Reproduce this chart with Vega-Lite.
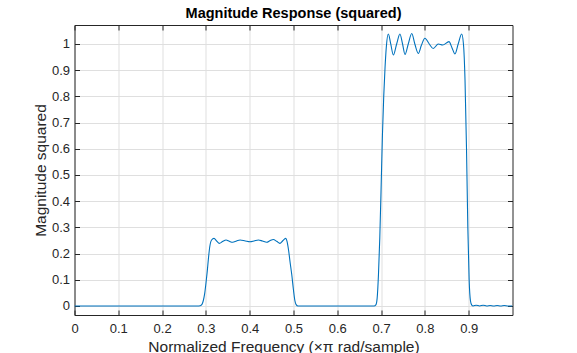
{
  "$schema": "https://vega.github.io/schema/vega-lite/v6.json",
  "autosize": "none",
  "width": 438,
  "height": 290,
  "padding": {"left": 74.5, "top": 25, "right": 64.5, "bottom": 38},
  "background": "white",
  "config": {
    "view": {"stroke": null},
    "font": "Liberation Sans",
    "axis": {
      "domainColor": "#262626",
      "domainWidth": 1,
      "tickColor": "#262626",
      "tickSize": -5,
      "tickWidth": 1,
      "labelColor": "#262626",
      "labelFont": "Liberation Sans",
      "labelFontSize": 13,
      "titleColor": "#262626",
      "titleFont": "Liberation Sans",
      "titleFontSize": 15.5,
      "titleFontWeight": "normal",
      "gridColor": "#dfdfdf",
      "gridWidth": 1
    }
  },
  "title": {
    "text": "Magnitude Response (squared)",
    "font": "Liberation Sans",
    "fontSize": 14.5,
    "fontWeight": "bold",
    "color": "#000000",
    "anchor": "middle",
    "baseline": "alphabetic",
    "offset": 7,
    "dy": 14.5
  },
  "data": {
    "values": [
      {"f": 0.0, "m": 0.0},
      {"f": 0.1, "m": 0.0},
      {"f": 0.2, "m": 0.0},
      {"f": 0.28, "m": 0.0},
      {"f": 0.287, "m": 0.001},
      {"f": 0.291, "m": 0.006},
      {"f": 0.294, "m": 0.02},
      {"f": 0.297, "m": 0.045},
      {"f": 0.3, "m": 0.085},
      {"f": 0.303, "m": 0.131},
      {"f": 0.306, "m": 0.185},
      {"f": 0.309, "m": 0.228},
      {"f": 0.313, "m": 0.252},
      {"f": 0.3185, "m": 0.258},
      {"f": 0.3245, "m": 0.248},
      {"f": 0.3306, "m": 0.239},
      {"f": 0.338, "m": 0.246},
      {"f": 0.346, "m": 0.252},
      {"f": 0.3535, "m": 0.247},
      {"f": 0.361, "m": 0.243},
      {"f": 0.37, "m": 0.248},
      {"f": 0.378, "m": 0.252},
      {"f": 0.39, "m": 0.248},
      {"f": 0.4007, "m": 0.245},
      {"f": 0.41, "m": 0.248},
      {"f": 0.4197, "m": 0.252},
      {"f": 0.429, "m": 0.248},
      {"f": 0.4388, "m": 0.243},
      {"f": 0.446, "m": 0.249},
      {"f": 0.454, "m": 0.254},
      {"f": 0.4615, "m": 0.247},
      {"f": 0.469, "m": 0.239},
      {"f": 0.4755, "m": 0.249},
      {"f": 0.482, "m": 0.258},
      {"f": 0.4855, "m": 0.245},
      {"f": 0.489, "m": 0.21},
      {"f": 0.492, "m": 0.17},
      {"f": 0.496, "m": 0.12},
      {"f": 0.5, "m": 0.06},
      {"f": 0.503, "m": 0.022},
      {"f": 0.506, "m": 0.005},
      {"f": 0.51, "m": 0.0},
      {"f": 0.6, "m": 0.0},
      {"f": 0.684, "m": 0.0},
      {"f": 0.688, "m": 0.004},
      {"f": 0.691, "m": 0.03},
      {"f": 0.694, "m": 0.12},
      {"f": 0.697, "m": 0.26},
      {"f": 0.7, "m": 0.45},
      {"f": 0.703, "m": 0.65},
      {"f": 0.706, "m": 0.8},
      {"f": 0.709, "m": 0.91},
      {"f": 0.712, "m": 0.99},
      {"f": 0.7165, "m": 1.038},
      {"f": 0.722, "m": 1.0},
      {"f": 0.728, "m": 0.958},
      {"f": 0.7355, "m": 1.0},
      {"f": 0.743, "m": 1.038},
      {"f": 0.749, "m": 1.0},
      {"f": 0.7546, "m": 0.96},
      {"f": 0.762, "m": 1.0},
      {"f": 0.77, "m": 1.04},
      {"f": 0.777, "m": 1.0},
      {"f": 0.785, "m": 0.964},
      {"f": 0.792, "m": 0.995},
      {"f": 0.8, "m": 1.022},
      {"f": 0.81, "m": 1.0},
      {"f": 0.819, "m": 0.983},
      {"f": 0.8306, "m": 1.0},
      {"f": 0.8406, "m": 0.996},
      {"f": 0.855, "m": 1.009},
      {"f": 0.862, "m": 0.985},
      {"f": 0.8687, "m": 0.962},
      {"f": 0.876, "m": 1.0},
      {"f": 0.884, "m": 1.038},
      {"f": 0.888, "m": 1.0},
      {"f": 0.8916, "m": 0.862},
      {"f": 0.895, "m": 0.6},
      {"f": 0.898, "m": 0.3},
      {"f": 0.901, "m": 0.1},
      {"f": 0.904, "m": 0.02},
      {"f": 0.907, "m": 0.003},
      {"f": 0.91, "m": 0.0},
      {"f": 0.917, "m": 0.003},
      {"f": 0.925, "m": 0.0},
      {"f": 0.933, "m": 0.003},
      {"f": 0.941, "m": 0.0},
      {"f": 0.949, "m": 0.002},
      {"f": 0.957, "m": 0.0},
      {"f": 0.965, "m": 0.002},
      {"f": 0.973, "m": 0.0},
      {"f": 0.981, "m": 0.002},
      {"f": 0.99, "m": 0.0},
      {"f": 1.0, "m": 0.0}
    ]
  },
  "layer": [
    {
      "mark": {"type": "line", "color": "#0072BD", "strokeWidth": 1.1, "interpolate": "monotone", "clip": true},
      "encoding": {
        "x": {
          "field": "f", "type": "quantitative",
          "scale": {"domain": [0, 1], "nice": false, "zero": false},
          "axis": {
            "orient": "bottom",
            "values": [0, 0.1, 0.2, 0.3, 0.4, 0.5, 0.6, 0.7, 0.8, 0.9],
            "format": "~g",
            "grid": true,
            "labelPadding": 12,
            "labelFlush": false,
            "title": "Normalized Frequency  (×π rad/sample)",
            "titleX": 209,
            "titleY": 36,
            "titleBaseline": "alphabetic",
            "titleAlign": "center"
          }
        },
        "y": {
          "field": "m", "type": "quantitative",
          "scale": {"domain": [-0.0344, 1.0725], "nice": false, "zero": false},
          "axis": {
            "orient": "left",
            "values": [0, 0.1, 0.2, 0.3, 0.4, 0.5, 0.6, 0.7, 0.8, 0.9, 1],
            "format": "~g",
            "grid": true,
            "labelPadding": 10,
            "labelFlush": false,
            "title": "Magnitude squared",
            "titleX": -34.5,
            "titleY": 145,
            "titleAngle": -90,
            "titleAlign": "center",
            "titleBaseline": "middle"
          }
        }
      }
    },
    {
      "mark": {"type": "line", "strokeOpacity": 0, "clip": true},
      "encoding": {
        "x": {
          "field": "f", "type": "quantitative",
          "axis": {
            "orient": "top",
            "values": [0, 0.1, 0.2, 0.3, 0.4, 0.5, 0.6, 0.7, 0.8, 0.9],
            "labels": false,
            "grid": false,
            "title": null
          }
        },
        "y": {
          "field": "m", "type": "quantitative",
          "axis": {
            "orient": "right",
            "values": [0, 0.1, 0.2, 0.3, 0.4, 0.5, 0.6, 0.7, 0.8, 0.9, 1],
            "labels": false,
            "grid": false,
            "title": null
          }
        }
      }
    }
  ],
  "resolve": {"axis": {"x": "independent", "y": "independent"}}
}
